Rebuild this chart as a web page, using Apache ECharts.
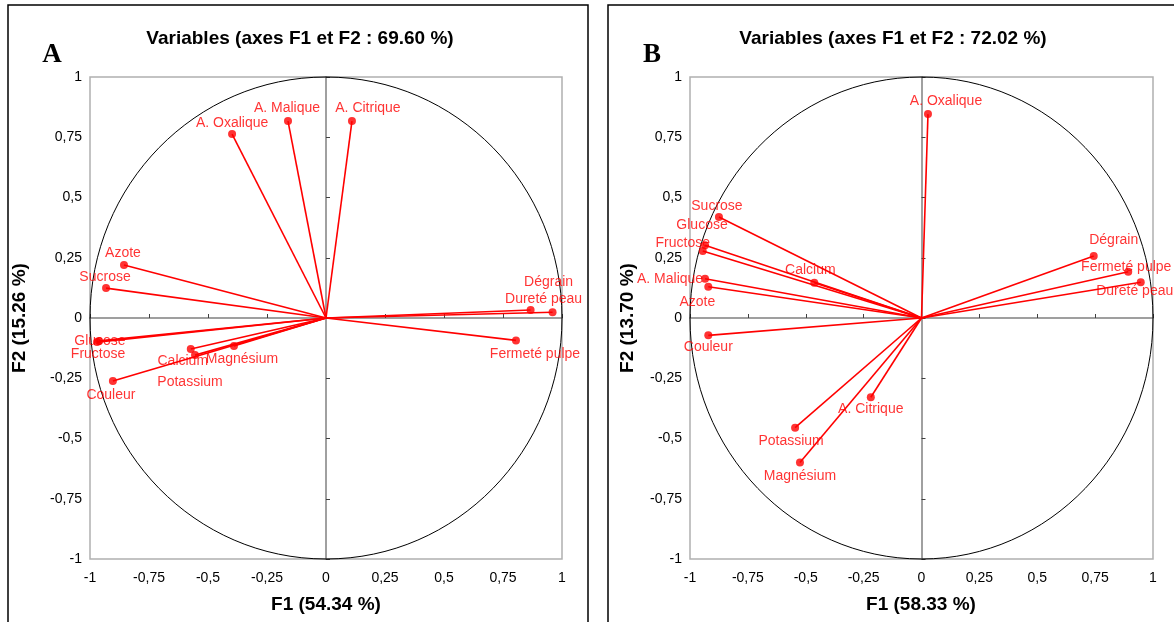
<!DOCTYPE html>
<html>
<head>
<meta charset="utf-8">
<script src="https://cdn.jsdelivr.net/npm/echarts@6/dist/echarts.min.js"></script>
<style>html,body{margin:0;padding:0;background:#fff;}#c{width:1174px;height:622px;}</style>
</head>
<body>
<div id="c"></div>
<script>
// ---- Data ----
const tickValues = [-1, -0.75, -0.5, -0.25, 0, 0.25, 0.5, 0.75, 1];

const titleA = 'Variables (axes F1 et F2 : 69.60 %)';
const xTitleA = 'F1 (54.34 %)';
const yTitleA = 'F2 (15.26 %)';
const varsA = ['A. Oxalique','A. Malique','A. Citrique','Azote','Sucrose','Glucose','Fructose','Couleur','Calcium','Potassium','Magnésium','Dégrain','Dureté peau','Fermeté pulpe'];
const f1A = [-0.398,-0.161,0.110,-0.856,-0.932,-0.962,-0.970,-0.903,-0.573,-0.555,-0.390,0.867,0.960,0.805];
const f2A = [0.763,0.817,0.817,0.220,0.124,-0.095,-0.100,-0.261,-0.129,-0.154,-0.116,0.033,0.024,-0.093];

const titleB = 'Variables (axes F1 et F2 : 72.02 %)';
const xTitleB = 'F1 (58.33 %)';
const yTitleB = 'F2 (13.70 %)';
const varsB = ['A. Oxalique','Sucrose','Glucose','Fructose','Calcium','A. Malique','Azote','Couleur','Potassium','Magnésium','A. Citrique','Dégrain','Fermeté pulpe','Dureté peau'];
const f1B = [0.028,-0.875,-0.935,-0.945,-0.463,-0.935,-0.921,-0.921,-0.546,-0.525,-0.219,0.744,0.893,0.947];
const f2B = [0.846,0.419,0.302,0.278,0.146,0.163,0.130,-0.072,-0.455,-0.600,-0.329,0.257,0.192,0.148];

// ---- Label placement (styling, px offsets from each point) ----
const labelOffA = [[0,-11],[-1,-13],[16,-13],[-1,-12],[-1,-11],[1,0],[1,12],[-2,14],[-8,12],[-5,27],[8,13],[18,-28],[-9,-13],[19,14]];
const labelOffB = [[18,-13],[-2,-11],[-3,-20],[-20,-8],[-4,-13],[-35,0],[-11,15],[0,12],[-4,13],[0,14],[0,12],[20,-16],[-2,-5],[-6,9]];

const RED = '#ff0000';
const fmt = v => String(v).replace('.', ',');

const grids = [
  {left: 90, top: 77, width: 472, height: 482},
  {left: 690, top: 77, width: 463, height: 482}
];

const xAxes = [], yAxes = [], series = [];

function addPanel(g, names, xs, ys, offs) {
  const bx = g * 2;
  const base = {type: 'value', min: -1, max: 1, interval: 0.25, gridIndex: g, splitLine: {show: false}};
  xAxes.push(Object.assign({}, base, {
    position: 'bottom',
    axisLine: {show: false, onZero: false}, axisTick: {show: false},
    axisLabel: {color: '#000', fontFamily: 'Liberation Sans, Arial', fontSize: 14, margin: 12, formatter: fmt}
  }));
  xAxes.push(Object.assign({}, base, {
    position: 'bottom',
    axisLine: {show: true, onZero: true, onZeroAxisIndex: bx, lineStyle: {color: '#808080', width: 1.5}},
    axisTick: {show: true, inside: true, length: 4, lineStyle: {color: '#404040', width: 1}},
    axisLabel: {show: false}
  }));
  yAxes.push(Object.assign({}, base, {
    position: 'left',
    axisLine: {show: false, onZero: false}, axisTick: {show: false},
    axisLabel: {color: '#000', fontFamily: 'Liberation Sans, Arial', fontSize: 14, margin: 8, formatter: fmt}
  }));
  yAxes.push(Object.assign({}, base, {
    position: 'left',
    axisLine: {show: true, onZero: true, onZeroAxisIndex: bx, lineStyle: {color: '#808080', width: 1.5}},
    axisTick: {show: true, inside: true, length: 4, lineStyle: {color: '#404040', width: 1}},
    axisLabel: {show: false}
  }));

  // correlation circle (radius 1 around origin)
  series.push({
    type: 'custom', xAxisIndex: bx, yAxisIndex: bx, silent: true, z: 1,
    data: [[0, 0]],
    renderItem: function (params, api) {
      const c = api.coord([0, 0]);
      const s = api.size([1, 1]);
      return {type: 'ellipse', shape: {cx: c[0], cy: c[1], rx: s[0], ry: s[1]},
        style: {fill: 'none', stroke: '#000', lineWidth: 1}};
    }
  });
  // vectors
  series.push({
    type: 'lines', coordinateSystem: 'cartesian2d', xAxisIndex: bx, yAxisIndex: bx, z: 3,
    lineStyle: {color: RED, width: 1.6, opacity: 1}, silent: true,
    data: names.map((n, i) => ({coords: [[0, 0], [xs[i], ys[i]]]}))
  });
  // points + labels
  series.push({
    type: 'scatter', xAxisIndex: bx, yAxisIndex: bx, z: 4,
    symbol: 'circle', symbolSize: 8, itemStyle: {color: RED},
    label: {show: true, position: 'inside', color: RED, fontFamily: 'Liberation Sans, Arial', fontSize: 14,
      formatter: p => p.name},
    data: names.map((n, i) => ({name: n, value: [xs[i], ys[i]], label: {offset: offs[i]}}))
  });
}

addPanel(0, varsA, f1A, f2A, labelOffA);
addPanel(1, varsB, f1B, f2B, labelOffB);

const titleFont = {fontFamily: 'Liberation Sans, Arial', fontWeight: 'bold', fontSize: 19, fill: '#000'};

const option = {
  animation: false,
  backgroundColor: '#fff',
  grid: grids.map(g => Object.assign({show: true, borderColor: '#b0b0b0', borderWidth: 1.5, backgroundColor: 'transparent'}, g)),
  xAxis: xAxes,
  yAxis: yAxes,
  series: series,
  graphic: [
    {type: 'rect', shape: {x: 8, y: 5, width: 580, height: 640}, style: {fill: 'none', stroke: '#000', lineWidth: 1.5}, silent: true},
    {type: 'rect', shape: {x: 608, y: 5, width: 600, height: 640}, style: {fill: 'none', stroke: '#000', lineWidth: 1.5}, silent: true},
    {type: 'text', x: 300, y: 39, style: Object.assign({text: titleA, textAlign: 'center', textVerticalAlign: 'middle'}, titleFont)},
    {type: 'text', x: 893, y: 39, style: Object.assign({text: titleB, textAlign: 'center', textVerticalAlign: 'middle'}, titleFont)},
    {type: 'text', x: 52, y: 55, style: {text: 'A', textAlign: 'center', textVerticalAlign: 'middle', fontFamily: 'Liberation Serif, Times New Roman', fontWeight: 'bold', fontSize: 27, fill: '#000'}},
    {type: 'text', x: 652, y: 55, style: {text: 'B', textAlign: 'center', textVerticalAlign: 'middle', fontFamily: 'Liberation Serif, Times New Roman', fontWeight: 'bold', fontSize: 27, fill: '#000'}},
    {type: 'text', x: 326, y: 605, style: Object.assign({text: xTitleA, textAlign: 'center', textVerticalAlign: 'middle'}, titleFont)},
    {type: 'text', x: 921, y: 605, style: Object.assign({text: xTitleB, textAlign: 'center', textVerticalAlign: 'middle'}, titleFont)},
    {type: 'text', x: 20, y: 318, rotation: Math.PI / 2, style: Object.assign({text: yTitleA, textAlign: 'center', textVerticalAlign: 'middle'}, titleFont)},
    {type: 'text', x: 628, y: 318, rotation: Math.PI / 2, style: Object.assign({text: yTitleB, textAlign: 'center', textVerticalAlign: 'middle'}, titleFont)}
  ]
};

const chart = echarts.init(document.getElementById('c'), null, {renderer: 'canvas'});
chart.setOption(option);
</script>
</body>
</html>
